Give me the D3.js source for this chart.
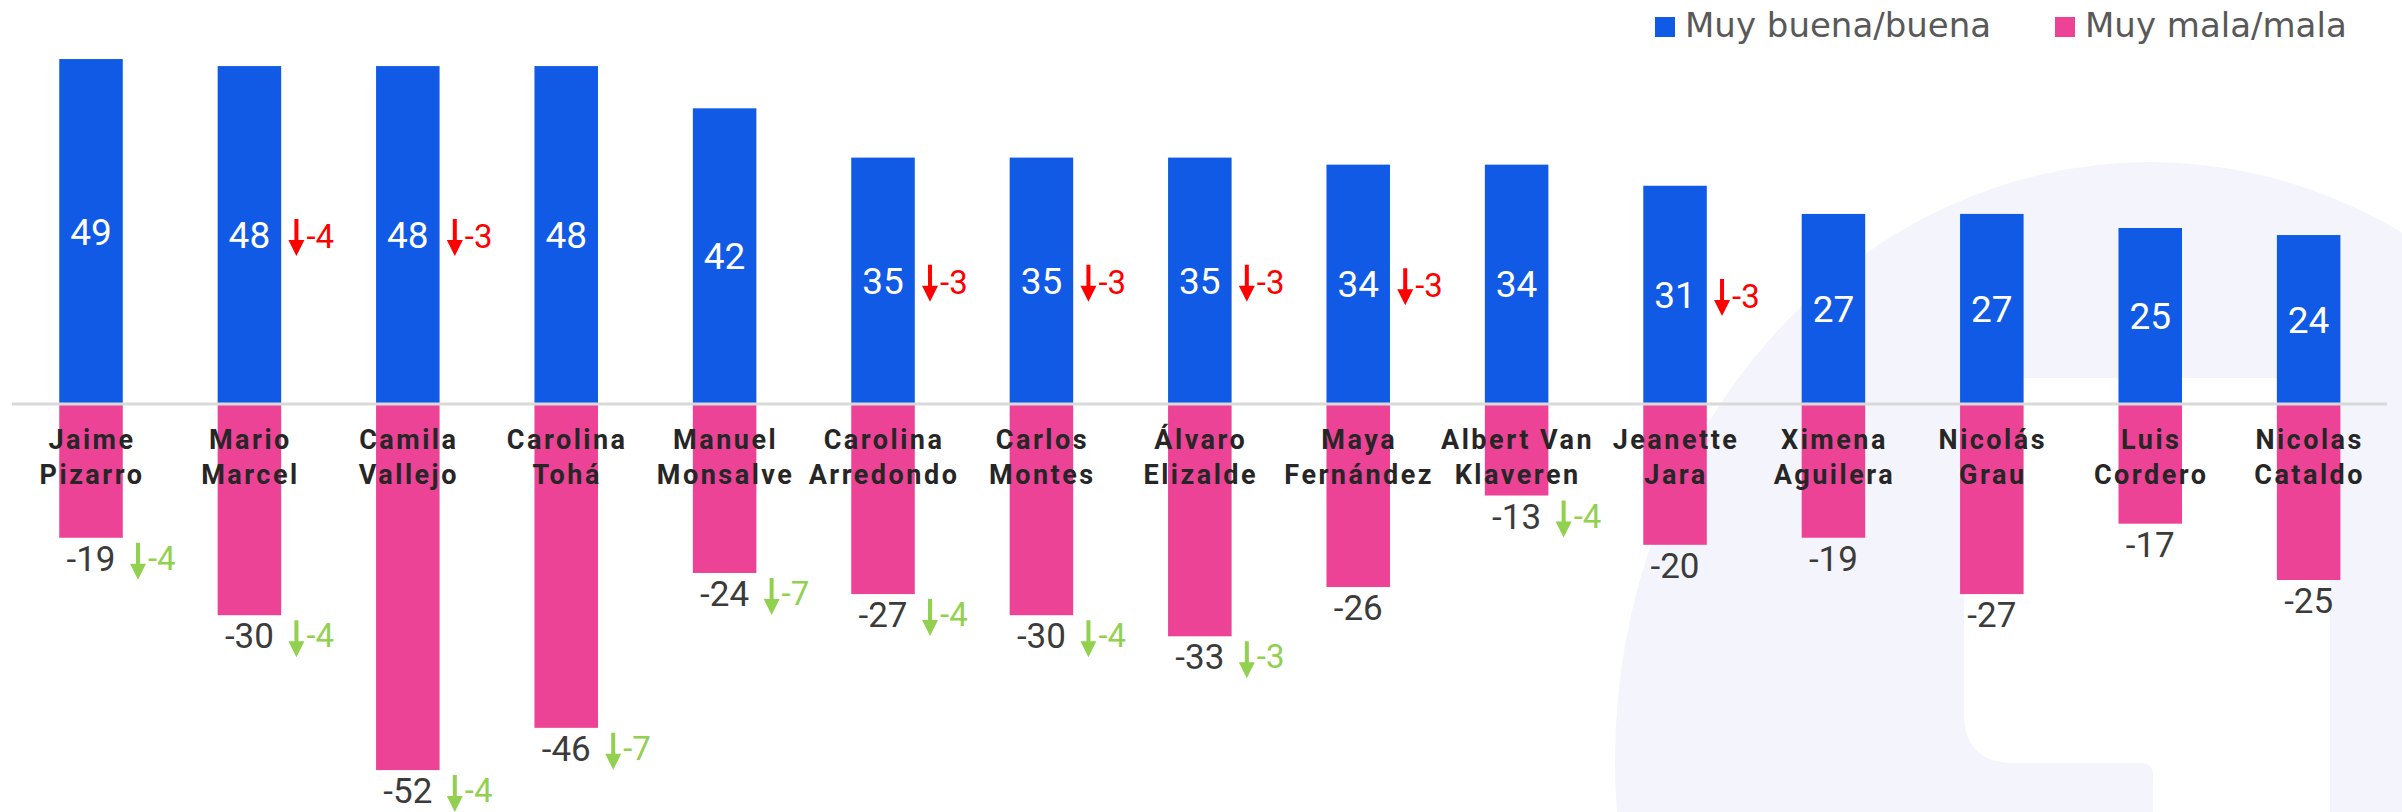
<!DOCTYPE html>
<html>
<head>
<meta charset="utf-8">
<script src="https://cdn.jsdelivr.net/npm/d3@7"></script>
<style>
  html, body { margin: 0; padding: 0; background: #fff; }
  svg { display: block; }
</style>
</head>
<body>
<div id="chart"></div>
<script>
// Data
const names = ["Jaime Pizarro", "Mario Marcel", "Camila Vallejo", "Carolina Tohá", "Manuel Monsalve",
  "Carolina Arredondo", "Carlos Montes", "Álvaro Elizalde", "Maya Fernández", "Albert Van Klaveren",
  "Jeanette Jara", "Ximena Aguilera", "Nicolás Grau", "Luis Cordero", "Nicolas Cataldo"];
const goodValues = [49, 48, 48, 48, 42, 35, 35, 35, 34, 34, 31, 27, 27, 25, 24];
const badValues = [-19, -30, -52, -46, -24, -27, -30, -33, -26, -13, -20, -19, -27, -17, -25];
// change vs previous measurement (null = no mark shown)
const goodChange = [null, -4, -3, null, null, -3, -3, -3, -3, null, -3, null, null, null, null];
const badChange = [-4, -4, -4, -7, -7, -4, -4, -3, null, -4, null, null, null, null, null];
const legendLabels = ["Muy buena/buena", "Muy mala/mala"];

const width = 2402, height = 812;
const blue = "#105ae5", pink = "#ec4396";
const red = "#ff0000", green = "#92d050";
const pxPerUnit = 7.04;

const rows = names.map((n, i) => ({
  name: n, good: goodValues[i], bad: badValues[i],
  goodChange: goodChange[i], badChange: badChange[i]
}));

const svg = d3.select("#chart").append("svg")
  .attr("width", width)
  .attr("height", height);

// Background watermark (light logo shape)
const wm = svg.append("g").attr("class", "watermark");
wm.append("ellipse")
  .attr("cx", 2150).attr("cy", 760)
  .attr("rx", 535).attr("ry", 598)
  .attr("fill", "#f4f5fc");
wm.append("path")
  .attr("d", "M1964,378 H2330 V812 H2153 V775 Q2153,763 2141,763 H2014 Q1964,763 1964,713 Z")
  .attr("fill", "#ffffff");

// Scales
const x = d3.scaleBand()
  .domain(names)
  .range([59.25, 2340.4])
  .paddingInner(0.599)
  .paddingOuter(0);

const y = d3.scaleLinear()
  .domain([-52, 49])
  .range([404 + 52 * pxPerUnit, 404 - 49 * pxPerUnit]);

const cx = d => x(d.name) + x.bandwidth() / 2;

// Bars
svg.append("g").selectAll("rect")
  .data(rows)
  .join("rect")
  .attr("x", d => x(d.name))
  .attr("y", d => y(d.good))
  .attr("width", x.bandwidth())
  .attr("height", d => y(0) - y(d.good))
  .attr("fill", blue);

svg.append("g").selectAll("rect")
  .data(rows)
  .join("rect")
  .attr("x", d => x(d.name))
  .attr("y", y(0))
  .attr("width", x.bandwidth())
  .attr("height", d => y(d.bad) - y(0))
  .attr("fill", pink);

// Zero line
svg.append("line")
  .attr("x1", 12).attr("x2", 2387)
  .attr("y1", y(0)).attr("y2", y(0))
  .attr("stroke", "#d9d9d9")
  .attr("stroke-width", 3);

// Names under the zero line
const nameG = svg.append("g")
  .attr("font-family", "Roboto, sans-serif")
  .attr("font-weight", 700)
  .attr("font-size", 27)
  .attr("letter-spacing", 2.5)
  .attr("fill", "#262626")
  .attr("text-anchor", "middle");

rows.forEach(d => {
  const cut = d.name.lastIndexOf(" ");
  const t = nameG.append("text").attr("x", cx(d) + 1);
  t.append("tspan").attr("x", cx(d) + 1).attr("y", 449).text(d.name.slice(0, cut));
  t.append("tspan").attr("x", cx(d) + 1).attr("y", 484).text(d.name.slice(cut + 1));
});

// Value labels
const valFont = "Roboto, sans-serif";
const goodCenter = d => (y(d.good) + y(0)) / 2;
const badBase = d => y(d.bad) + 33;
const badCenter = d => badBase(d) - 12;

svg.append("g").selectAll("text")
  .data(rows)
  .join("text")
  .attr("x", cx)
  .attr("y", d => goodCenter(d) + 13)
  .attr("text-anchor", "middle")
  .attr("font-family", valFont)
  .attr("font-size", 37)
  .attr("fill", "#ffffff")
  .text(d => d.good);

svg.append("g").selectAll("text")
  .data(rows)
  .join("text")
  .attr("x", cx)
  .attr("y", badBase)
  .attr("text-anchor", "middle")
  .attr("font-family", valFont)
  .attr("font-size", 35)
  .attr("fill", "#3b3b3b")
  .text(d => d.bad);

// Change arrows
function arrow(g, ax, top, color) {
  g.append("path")
    .attr("d", `M${ax - 2},${top} H${ax + 2} V${top + 21} H${ax + 8} L${ax},${top + 37} L${ax - 8},${top + 21} H${ax - 2} Z`)
    .attr("fill", color);
}

const changeG = svg.append("g");
rows.forEach(d => {
  if (d.goodChange != null) {
    const vc = goodCenter(d);
    arrow(changeG, cx(d) + 47, vc - 16, red);
    changeG.append("text")
      .attr("x", cx(d) + 57)
      .attr("y", vc + 13)
      .attr("font-family", valFont)
      .attr("font-size", 33)
      .attr("fill", red)
      .text(d.goodChange);
  }
  if (d.badChange != null) {
    const vc = badCenter(d);
    arrow(changeG, cx(d) + 47, vc - 16, green);
    changeG.append("text")
      .attr("x", cx(d) + 57)
      .attr("y", vc + 11)
      .attr("font-family", valFont)
      .attr("font-size", 33)
      .attr("fill", green)
      .text(d.badChange);
  }
});

// Legend
const legend = svg.append("g")
  .attr("font-family", "'DejaVu Sans', sans-serif")
  .attr("font-size", 34)
  .attr("fill", "#595959");
const legendX = [1655, 2055];
[blue, pink].forEach((c, i) => {
  legend.append("rect")
    .attr("x", legendX[i]).attr("y", 17)
    .attr("width", 20).attr("height", 20)
    .attr("fill", c);
  legend.append("text")
    .attr("x", legendX[i] + 30).attr("y", 37)
    .text(legendLabels[i]);
});
</script>
</body>
</html>
